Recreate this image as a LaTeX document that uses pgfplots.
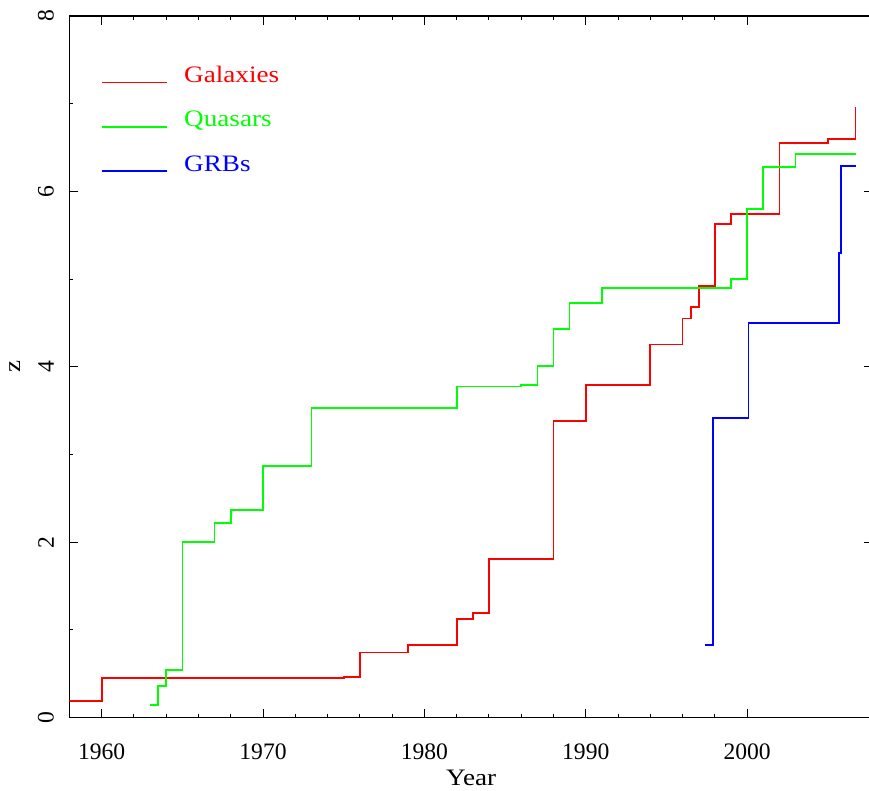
\documentclass[border=0pt]{standalone}
\usepackage{fontspec}
\setmainfont{Liberation Serif}
\newfontfamily\widefont[FakeStretch=1.15]{Liberation Serif}
\usepackage{pgfplots}
\pgfplotsset{compat=1.18}

\begin{document}
\begin{tikzpicture}
\begin{axis}[
  scale only axis,
  width=401.8pt, height=350.75pt,
  xmin=1958, xmax=2007.8,
  ymin=0, ymax=8,
  xtick={1960,1970,...,2000}, minor x tick num=4,
  ytick={0,2,...,8}, minor y tick num=1,
  major tick length=4.5pt, minor tick length=2pt,
  tick style={black, line width=0.5pt},
  axis line style={line width=0.6pt},
  /pgf/number format/assume math mode=true,
  /pgf/number format/1000 sep={},
  tick label style={font=\fontsize{11.8}{14}\selectfont},
  xticklabel shift=9.8pt,
  yticklabel style={rotate=90, anchor=south},
  yticklabel shift=4.2pt,
  xlabel={Year}, ylabel={z},
  label style={font=\widefont\fontsize{11.8}{14}\selectfont},
  xlabel style={at={(axis description cs:0.5,-0.0865)}, anchor=center},
  ylabel style={at={(axis description cs:-0.0677,0.5)}, anchor=center},
  legend style={draw=none, fill=none, at={(axis cs:1959.96,7.42)},
    anchor=north west, inner sep=0pt, outer sep=0pt,
    column sep=8pt, row sep=13.95pt,
    nodes={inner sep=0pt, text height=7.8pt, text depth=0pt,
      font=\widefont\fontsize{11.8}{14}\selectfont}},
  legend cell align=left,
  legend image code/.code={\draw[#1, line width=0.8pt] (0pt,-3.9pt) -- (32.8pt,-3.9pt);},
]
% Galaxies
\addplot[const plot, color=red, line width=0.85pt] coordinates {
  (1958,0.19) (1960,0.45) (1975,0.46) (1976,0.74) (1979,0.83)
  (1982,1.12) (1983,1.195) (1984,1.81) (1988,3.38) (1990,3.79)
  (1994,4.255) (1996,4.55) (1996.52,4.68) (1997,4.92) (1998,5.63)
  (1999,5.74) (2002,6.555) (2005,6.595) (2006.72,6.96)
};
% Quasars
\addplot[const plot, color=green, line width=0.85pt] coordinates {
  (1963.0,0.146) (1963.49,0.36) (1963.99,0.54) (1965,2.0) (1967,2.215)
  (1968,2.37) (1970,2.87) (1973,3.53) (1982,3.775) (1986,3.795)
  (1987,4.005) (1988,4.43) (1989,4.73) (1991,4.895) (1999,5.0)
  (2000,5.8) (2001,6.28) (2003,6.43) (2006.75,6.43)
};
% GRBs
\addplot[const plot, color=blue, line width=0.85pt] coordinates {
  (1997.39,0.83) (1997.9,3.415) (2000.09,4.5) (2005.71,5.295)
  (2005.83,6.29) (2006.77,6.29)
};
\legend{\textcolor{red}{Galaxies},\textcolor{green}{Quasars},\textcolor{blue}{GRBs}}
\end{axis}
\pgfresetboundingbox
\path ([shift={(-34.7pt,-36.25pt)}]current axis.south west) rectangle ([shift={(-2pt,8pt)}]current axis.north east);
\end{tikzpicture}
\end{document}
